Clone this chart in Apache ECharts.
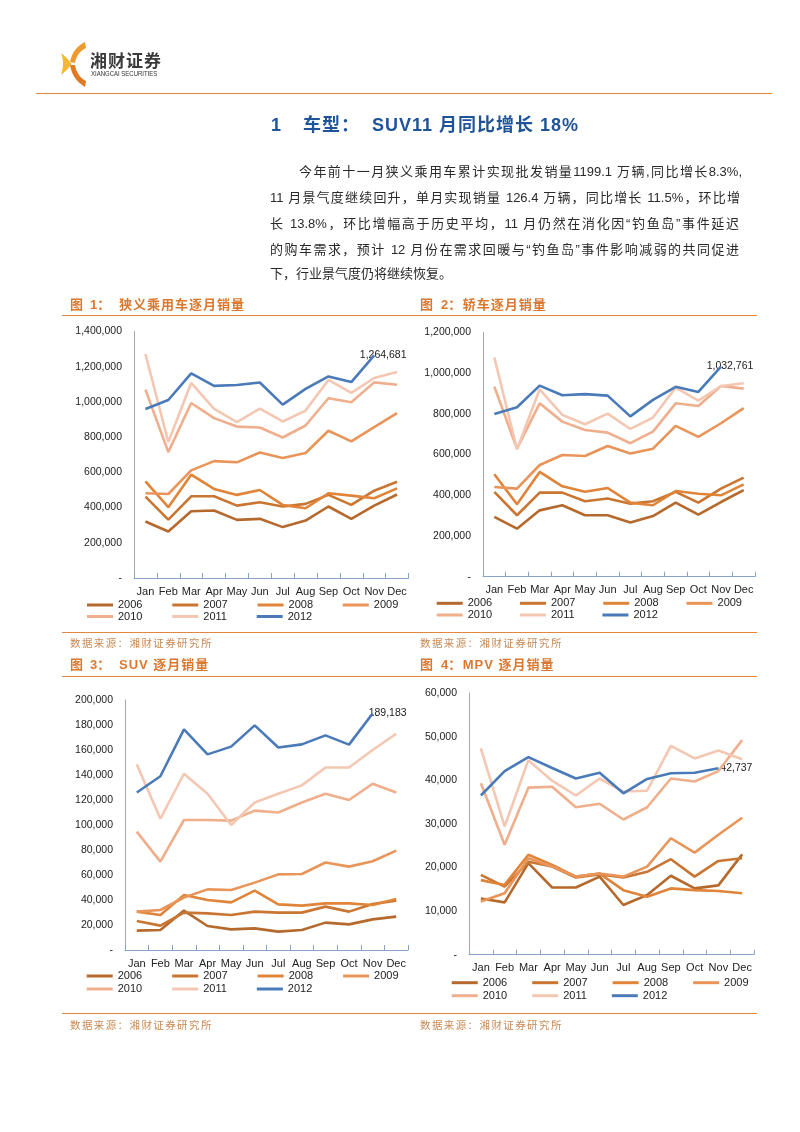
<!DOCTYPE html>
<html><head><meta charset="utf-8">
<script src="https://cdn.jsdelivr.net/npm/echarts@6/dist/echarts.min.js"></script>
<style>
html,body{margin:0;padding:0;background:#fff;}
#page{position:relative;width:800px;height:1132px;overflow:hidden;font-family:"Liberation Sans","Noto Sans CJK SC",sans-serif;background:#fff;}
#chart{position:absolute;left:0;top:0;width:800px;height:1132px;}
.abs{position:absolute;white-space:nowrap;}
.rule{position:absolute;height:0;border-top:1.5px solid #E3873F;}
.p{position:absolute;font-size:13px;line-height:20px;height:20px;color:#2a2a2a;text-align:justify;text-align-last:justify;overflow:visible;}
.cap{position:absolute;white-space:nowrap;font-family:"Liberation Sans","Noto Sans CJK SC",sans-serif;font-weight:bold;font-size:13px;line-height:16px;color:#DB7830;}
.capt{letter-spacing:1px;}
.src{position:absolute;white-space:nowrap;font-family:"Noto Sans CJK SC",sans-serif;font-size:10.5px;line-height:14px;color:#C98A55;letter-spacing:1.4px;}
.title{position:absolute;white-space:nowrap;font-family:"Liberation Sans","Noto Sans CJK SC",sans-serif;font-weight:bold;font-size:18px;line-height:22px;color:#1F5499;letter-spacing:1px;}
</style>
</head><body>
<div id="page">
  <div id="chart"></div>

  <svg class="abs" style="left:58px;top:40px" width="32" height="50" viewBox="58 40 32 50">
    <path d="M70,62 C72,52 77,46 85,42 L86,48 C80,51 76,56 75,63 Z" fill="#EE9A2E"/>
    <path d="M61,53 C66,57 69,60 71.5,64 C69,68 66,71 61,75 C63.5,68 64,60 61,53 Z" fill="#F6B834"/>
    <path d="M70,65 C72,76 77,82 85,87 L86,81 C80,78 76,72 75,65 Z" fill="#E2781F"/>
  </svg>
  <div class="abs" style="left:90px;top:50px;font-family:'Noto Sans CJK SC',sans-serif;font-weight:bold;font-size:17px;line-height:20px;letter-spacing:1px;color:#3a3a3a;">湘财证券</div>
  <div class="abs" style="left:91px;top:70px;font-size:7.5px;line-height:8px;color:#333;transform:scaleX(0.8);transform-origin:left top;">XIANGCAI SECURITIES</div>
  <div class="rule" style="left:36px;top:92.5px;width:736px;"></div>

  <div class="title" style="left:271px;top:114px;">1</div>
  <div class="title" style="left:303px;top:114px;">车型：</div>
  <div class="title" style="left:372px;top:114px;">SUV11 月同比增长 18%</div>

  <div class="p" style="left:299px;top:161.7px;width:443px;">今年前十一月狭义乘用车累计实现批发销量1199.1 万辆,同比增长8.3%,</div>
  <div class="p" style="left:270px;top:188.3px;width:470px;">11 月景气度继续回升，单月实现销量 126.4 万辆，同比增长 11.5%，环比增</div>
  <div class="p" style="left:270px;top:214.3px;width:469px;">长 13.8%，环比增幅高于历史平均，11 月仍然在消化因“钓鱼岛”事件延迟</div>
  <div class="p" style="left:270px;top:240px;width:469px;">的购车需求，预计 12 月份在需求回暖与“钓鱼岛”事件影响减弱的共同促进</div>
  <div class="p" style="left:270px;top:264.3px;width:300px;text-align:left;text-align-last:left;">下，行业景气度仍将继续恢复。</div>

  <div class="cap" style="left:70px;top:297px;">图</div><div class="cap" style="left:90px;top:297px;">1：</div>
  <div class="cap capt" style="left:119px;top:297px;">狭义乘用车逐月销量</div>
  <div class="cap" style="left:420px;top:297px;">图</div><div class="cap" style="left:441px;top:297px;">2：</div>
  <div class="cap capt" style="left:462.7px;top:297px;">轿车逐月销量</div>
  <div class="rule" style="left:62px;top:315px;width:695px;"></div>

  <div class="rule" style="left:62px;top:631.5px;width:695px;"></div>
  <div class="src" style="left:70px;top:636px;">数据来源：湘财证券研究所</div>
  <div class="src" style="left:420px;top:636px;">数据来源：湘财证券研究所</div>

  <div class="cap" style="left:70px;top:657px;">图</div><div class="cap" style="left:90px;top:657px;">3：</div>
  <div class="cap capt" style="left:119px;top:657px;">SUV 逐月销量</div>
  <div class="cap" style="left:420px;top:657px;">图</div><div class="cap" style="left:441px;top:657px;">4：</div>
  <div class="cap capt" style="left:462.7px;top:657px;">MPV 逐月销量</div>
  <div class="rule" style="left:62px;top:675.5px;width:695px;"></div>

  <div class="rule" style="left:62px;top:1012.5px;width:695px;"></div>
  <div class="src" style="left:70px;top:1018px;">数据来源：湘财证券研究所</div>
  <div class="src" style="left:420px;top:1018px;">数据来源：湘财证券研究所</div>
</div>
<script>
// ---- categories / legend names ----
const months = ['Jan','Feb','Mar','Apr','May','Jun','Jul','Aug','Sep','Oct','Nov','Dec'];
const years = ['2006','2007','2008','2009','2010','2011','2012'];

// ---- Fig 1: narrow passenger cars ----
const passenger2006 = [321000, 264000, 379000, 383000, 330000, 336000, 289000, 326000, 406000, 336000, 411000, 474000];
const passenger2007 = [462000, 332000, 464000, 464000, 411000, 430000, 406000, 421000, 472000, 415000, 496000, 547000];
const passenger2008 = [549000, 402000, 587000, 506000, 472000, 500000, 415000, 396000, 481000, 468000, 453000, 509000];
const passenger2009 = [481000, 477000, 611000, 664000, 657000, 713000, 681000, 710000, 836000, 776000, 857000, 936000];
const passenger2010 = [1070000, 715000, 994000, 908000, 860000, 855000, 798000, 866000, 1021000, 998000, 1111000, 1098000];
const passenger2011 = [1272000, 772000, 1108000, 960000, 885000, 962000, 889000, 951000, 1125000, 1051000, 1136000, 1170000];
const passenger2012 = [960000, 1011000, 1162000, 1091000, 1096000, 1110000, 985000, 1074000, 1145000, 1113000, 1264681, null];

// ---- Fig 2: sedans ----
const sedan2006 = [294000, 236000, 326000, 351000, 302000, 302000, 266000, 298000, 364000, 305000, 367000, 425000];
const sedan2007 = [417000, 302000, 413000, 413000, 371000, 384000, 359000, 371000, 417000, 364000, 433000, 487000];
const sedan2008 = [503000, 356000, 515000, 444000, 417000, 436000, 364000, 351000, 421000, 408000, 400000, 454000];
const sedan2009 = [441000, 433000, 549000, 598000, 593000, 642000, 605000, 629000, 741000, 687000, 754000, 828000];
const sedan2010 = [934000, 629000, 852000, 762000, 721000, 708000, 656000, 713000, 852000, 839000, 937000, 924000];
const sedan2011 = [1077000, 626000, 921000, 795000, 749000, 801000, 726000, 782000, 929000, 865000, 937000, 951000];
const sedan2012 = [800000, 833000, 939000, 892000, 897000, 890000, 788000, 869000, 933000, 908000, 1032761, null];

// ---- Fig 3: SUV ----
const suv2006 = [15500, 16000, 31500, 19200, 16500, 17300, 14700, 16000, 21900, 20500, 24500, 26700];
const suv2007 = [23200, 19500, 29900, 29300, 28000, 30700, 29900, 29900, 34700, 30700, 36800, 39500];
const suv2008 = [30700, 28000, 44000, 40000, 38100, 47500, 36500, 35500, 37300, 37300, 36000, 40800];
const suv2009 = [30700, 32000, 42000, 48500, 48000, 53900, 60500, 60800, 70000, 66700, 71000, 79500];
const suv2010 = [94700, 70700, 104000, 104000, 103500, 111500, 110000, 118000, 125000, 120000, 133000, 126000];
const suv2011 = [148500, 105000, 141000, 125000, 100000, 118000, 125000, 131700, 146000, 146000, 160000, 173000];
const suv2012 = [126000, 139000, 176500, 156500, 162700, 179700, 162000, 164500, 171700, 164300, 189183, null];

// ---- Fig 4: MPV ----
const mpv2006 = [12900, 12000, 21000, 15400, 15400, 17900, 11400, 13700, 18100, 15200, 15900, 23000];
const mpv2007 = [18300, 15600, 21300, 20200, 17700, 18400, 17700, 19000, 21900, 17900, 21500, 22100];
const mpv2008 = [17100, 16000, 22900, 20600, 17900, 18600, 14800, 13300, 15200, 14800, 14600, 14100];
const mpv2009 = [12200, 14100, 22100, 20200, 17900, 18600, 17900, 20200, 26700, 23400, 27500, 31400];
const mpv2010 = [39300, 25200, 38300, 38500, 33800, 34600, 31000, 33800, 40400, 39700, 42100, 49200];
const mpv2011 = [47300, 29400, 44600, 39900, 36500, 40400, 37400, 37600, 47900, 45000, 46800, 44800];
const mpv2012 = [36500, 42100, 45300, 42800, 40400, 41700, 37000, 40300, 41600, 41700, 42737, null];

// ---- y-axis scales ----
const yMax = [1400000, 1200000, 200000, 60000];
const yStep = [200000, 200000, 20000, 10000];

const colors = ['#B5692D','#C97632','#DF8438','#E9955A','#EFAE8C','#F4C7B3','#4A7AB8'];
const FONT = '"Liberation Sans", Arial, sans-serif';

const panels = [
  { data:[passenger2006,passenger2007,passenger2008,passenger2009,passenger2010,passenger2011,passenger2012],
    grid:{left:134, top:331.5, width:274.5, height:246.5}, legendLeft:87, rows:[605,616.5], gap:29.8, lblOff:[9,0] },
  { data:[sedan2006,sedan2007,sedan2008,sedan2009,sedan2010,sedan2011,sedan2012],
    grid:{left:483, top:332.5, width:272, height:244.2}, legendLeft:436.7, rows:[603.3,615], gap:27.8, lblOff:[9,0] },
  { data:[suv2006,suv2007,suv2008,suv2009,suv2010,suv2011,suv2012],
    grid:{left:125, top:700, width:283, height:250}, legendLeft:86.7, rows:[976,989], gap:30, lblOff:[15,0] },
  { data:[mpv2006,mpv2007,mpv2008,mpv2009,mpv2010,mpv2011,mpv2012],
    grid:{left:469, top:693, width:285, height:261.7}, legendLeft:451.7, rows:[982.7,995.7], gap:25, lblOff:[18,0] }
];

const grids = [], xAxes = [], yAxes = [], series = [], legends = [];
panels.forEach((p, c) => {
  grids.push(Object.assign({containLabel:false}, p.grid));
  xAxes.push({
    type:'category', gridIndex:c, data:months, boundaryGap:true,
    axisLine:{show:true, lineStyle:{color:'#8AA2C8', width:1}},
    axisTick:{show:true, inside:true, length:5, lineStyle:{color:'#8AA2C8'}},
    axisLabel:{color:'#222', fontSize:11, fontFamily:FONT, margin:8, interval:0},
    splitLine:{show:false}
  });
  yAxes.push({
    type:'value', gridIndex:c, min:0, max:yMax[c], interval:yStep[c],
    axisLine:{show:true, lineStyle:{color:'#A6A6A6', width:1}},
    axisTick:{show:false}, splitLine:{show:false},
    axisLabel:{color:'#222', fontSize:10.5, fontFamily:FONT, margin:12,
      formatter: v => v === 0 ? '-' : v.toLocaleString('en-US')}
  });
  p.data.forEach((arr, k) => {
    const s = {
      type:'line', name:years[k], xAxisIndex:c, yAxisIndex:c, data:arr,
      showSymbol:false, symbol:'none', z:2+k,
      lineStyle:{width:2.6, color:colors[k]}, itemStyle:{color:colors[k]},
      emphasis:{disabled:true}
    };
    if (k === 6) {
      let last = arr.length - 1;
      while (last >= 0 && (arr[last] === null || arr[last] === undefined)) last--;
      s.markPoint = {
        symbol:'circle', symbolSize:1, itemStyle:{color:'rgba(0,0,0,0)'},
        data:[{coord:[months[last], arr[last]], value:arr[last]}],
        label:{show:true, position:'inside', offset:p.lblOff, color:'#222', fontSize:10.5, fontFamily:FONT,
          formatter: d => d.value.toLocaleString('en-US')}
      };
    }
    series.push(s);
  });
  [years.slice(0,4), years.slice(4)].forEach((names, r) => {
    legends.push({
      data:names, left:p.legendLeft, top:p.rows[r]-5.5, orient:'horizontal',
      icon:'rect', itemWidth:26, itemHeight:3, itemGap:p.gap, padding:0,
      selectedMode:false,
      textStyle:{color:'#222', fontSize:11, fontFamily:FONT}
    });
  });
});

const chart = echarts.init(document.getElementById('chart'), null, {renderer:'canvas'});
chart.setOption({
  animation:false,
  backgroundColor:'transparent',
  grid:grids, xAxis:xAxes, yAxis:yAxes, series:series, legend:legends
});
</script>
</body></html>
